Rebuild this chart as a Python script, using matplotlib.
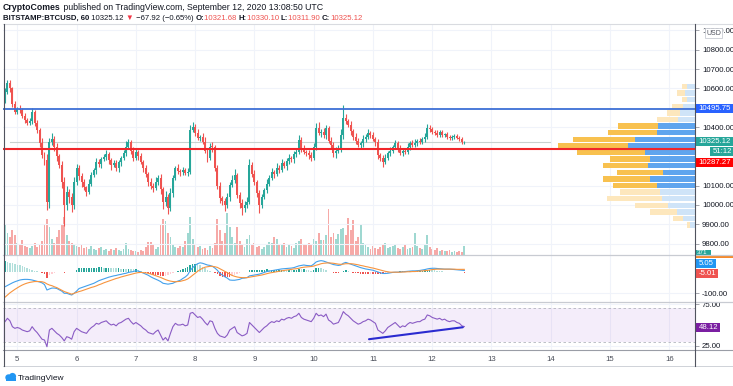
import matplotlib
matplotlib.use('Agg')
import matplotlib.pyplot as plt
import numpy as np
from matplotlib.patches import Rectangle, Circle

plt.rcParams['font.family'] = ['Liberation Sans', 'DejaVu Sans']

# ---- data (hourly candles, Sep 4 19:00 -> Sep 12 13:00 UTC) ----
first_open = 10540
closes = [10580, 10630, 10600, 10520, 10480,
          10495, 10489, 10460, 10440, 10420, 10430, 10479, 10420, 10386, 10320, 10257, 10230, 10015, 10324, 10340, 10300, 10250, 10206, 10118, 10000, 10066, 10040, 9999, 10120,
          10190, 10150, 10118, 10090, 10066, 10110, 10154, 10180, 10221, 10210, 10235, 10247, 10260, 10230, 10206, 10215, 10190, 10221, 10240, 10265, 10300, 10324, 10280, 10240,
          10273, 10250, 10221, 10190, 10160, 10120, 10100, 10087, 10120, 10139, 10080, 10015, 10040, 9984, 10060, 10140, 10190, 10175, 10170, 10180, 10164, 10170, 10386, 10400,
          10370, 10345, 10350, 10324, 10280, 10242, 10300, 10298, 10190, 10100, 10035, 10020, 9999, 10040, 10103, 10130, 10154, 10051, 10010, 9984, 10000, 10015, 10206, 10160,
          10118, 10060, 9999, 10040, 10077, 10110, 10140, 10170, 10160, 10190, 10180, 10216, 10200, 10225, 10242, 10235, 10260, 10273, 10335, 10290, 10273, 10265, 10257, 10242,
          10300, 10396, 10370, 10376, 10360, 10396, 10330, 10309, 10268, 10280, 10283, 10360, 10448, 10430, 10412, 10380, 10350, 10330, 10309, 10320, 10340, 10350, 10370, 10360,
          10340, 10324, 10257, 10240, 10221, 10240, 10268, 10280, 10300, 10319, 10290, 10268, 10280, 10273, 10300, 10319, 10310, 10319, 10330, 10324, 10340, 10350, 10396, 10390,
          10376, 10370, 10360, 10375, 10360, 10365, 10350, 10345, 10350, 10355, 10345, 10340, 10321.68, 10325.12]
up_wick = [20, 15, 12, 10, 15,
           12, 18, 10, 14, 8, 16, 20, 10, 15, 12, 25, 18, 30, 22, 30, 15, 18, 12, 20, 25, 30, 15, 20, 25,
           20, 15, 12, 18, 10, 22, 15, 12, 20, 18, 10, 14, 25, 12, 10, 18, 15, 10, 12, 20, 30, 15, 12, 18,
           15, 10, 20, 12, 15, 10, 18, 12, 25, 15, 20, 12, 30, 18, 25, 15, 12, 20, 10, 15, 12, 20, 25, 27,
           15, 20, 12, 18, 25, 15, 20, 25, 10, 15, 20, 12, 18, 22, 15, 25, 30, 12, 15, 20, 18, 25, 30, 15,
           20, 12, 15, 18, 10, 22, 15, 20, 12, 25, 15, 18, 10, 15, 20, 12, 18, 15, 25, 15, 20, 12, 18, 15,
           20, 25, 30, 15, 20, 18, 12, 20, 15, 18, 25, 30, 67, 20, 15, 18, 12, 20, 15, 10, 18, 15, 20, 12,
           15, 10, 18, 12, 15, 20, 12, 18, 10, 15, 12, 20, 15, 10, 18, 12, 15, 20, 10, 15, 12, 18, 20, 15,
           10, 12, 15, 10, 12, 8, 10, 12, 8, 10, 8, 10, 8.42, 4.98]
down_wick = [15, 10, 20, 18, 12,
             10, 15, 12, 20, 10, 8, 15, 12, 18, 20, 15, 25, 40, 30, 15, 20, 25, 18, 30, 110, 25, 30, 35, 20,
             15, 20, 25, 12, 18, 10, 15, 12, 20, 15, 18, 10, 15, 20, 25, 12, 15, 18, 20, 10, 15, 12, 20, 15,
             10, 18, 12, 20, 15, 25, 18, 20, 12, 15, 25, 35, 20, 30, 15, 20, 12, 15, 20, 18, 12, 15, 10, 12,
             15, 12, 18, 10, 15, 20, 12, 25, 15, 20, 25, 18, 30, 15, 20, 12, 18, 15, 25, 34, 20, 15, 12, 18,
             15, 20, 40, 15, 12, 18, 15, 10, 20, 12, 15, 10, 12, 18, 15, 12, 20, 15, 10, 18, 12, 15, 20, 15,
             12, 15, 10, 18, 15, 20, 12, 15, 20, 25, 15, 12, 18, 15, 12, 20, 15, 18, 12, 15, 20, 18, 12, 15,
             12, 18, 20, 15, 25, 12, 10, 15, 12, 10, 15, 12, 18, 10, 12, 15, 10, 12, 15, 10, 12, 15, 10, 12,
             10, 12, 8, 10, 12, 8, 10, 8, 10, 8, 6, 10, 8, 9.78]
volume = [31, 22, 18, 25, 20,
          12, 10, 15, 9, 8, 7, 9, 12, 8, 10, 14, 30, 36, 28, 16, 12, 18, 25, 30, 38, 20, 14, 12, 10,
          9, 8, 10, 7, 8, 6, 9, 6, 5, 7, 8, 5, 6, 4, 6, 5, 7, 5, 4, 6, 12, 6, 5, 4,
          4, 3, 5, 4, 8, 13, 13, 10, 6, 8, 30, 36, 34, 22, 18, 10, 8, 7, 9, 8, 14, 22, 38, 16,
          10, 8, 9, 6, 7, 5, 9, 7, 12, 36, 25, 14, 22, 42, 28, 18, 12, 28, 14, 10, 8, 16, 20, 10,
          12, 8, 9, 6, 8, 10, 13, 12, 18, 16, 11, 10, 12, 8, 10, 9, 7, 12, 14, 16, 11, 10, 12, 10,
          16, 14, 22, 15, 15, 20, 46, 18, 22, 16, 21, 26, 27, 20, 37, 25, 35, 14, 18, 30, 12, 10,
          8, 6, 9, 7, 6, 8, 10, 12, 7, 8, 9, 10, 7, 6, 8, 10, 6, 7, 8, 22, 9, 7, 6, 10, 20, 8,
          6, 5, 7, 4, 5, 4, 4, 5, 3, 4, 3, 4, 3, 9]

macd = [-70, -64, -58, -52, -47,
        -43, -39, -37, -36, -36, -37, -39, -42, -45, -48, -52, -60, -85, -80, -76, -76, -78, -84, -90, -100, -100, -104, -108, -100,
        -90, -78, -74, -70, -66, -62, -58, -54, -48, -42, -38, -34, -30, -26, -23, -20, -18, -15, -13, -10, -8, -4, -2, 0,
        4, 2, -2, -7, -12, -17, -24, -30, -35, -40, -46, -54, -56, -58, -56, -54, -48, -44, -40, -32, -25, -15, 5, 18,
        28, 36, 40, 38, 34, 30, 28, 24, 16, 6, -8, -16, -24, -30, -39, -40, -40, -38, -36, -31, -30, -28, -20, -18,
        -16, -14, -12, -8, -4, 0, 2, 4, 6, 8, 10, 12, 13, 14, 15, 16, 18, 22, 26, 28, 30, 28, 27, 26,
        34, 44, 48, 50, 48, 44, 40, 36, 32, 30, 28, 30, 38, 42, 38, 34, 30, 26, 22, 18, 15, 12, 10, 8,
        6, 2, -2, -6, -9, -9, -8, -6, -4, -3, -3, -2, -1, 0, 1, 2, 3, 3, 4, 5, 7, 9, 12, 14,
        15, 15, 14, 13, 12, 11, 11, 11, 10, 9, 8, 7, 6, 5.05]
signal = [-118, -108, -98, -90, -82,
          -75, -68, -62, -57, -53, -50, -48, -46, -46, -46, -47, -50, -57, -62, -65, -70, -74, -80, -86, -92, -96, -100, -104, -100,
          -96, -92, -89, -85, -81, -77, -73, -70, -66, -61, -57, -52, -48, -44, -40, -36, -32, -29, -25, -22, -19, -16, -13, -10,
          -7, -5, -4, -5, -6, -8, -11, -15, -19, -23, -27, -32, -37, -41, -44, -46, -47, -46, -45, -42, -39, -34, -26, -17,
          -8, 1, 9, 15, 20, 22, 24, 24, 22, 19, 13, 7, 1, -5, -12, -18, -22, -25, -27, -28, -28, -28, -26, -24,
          -22, -20, -18, -16, -13, -10, -7, -5, -3, -1, 1, 3, 5, 7, 8, 10, 12, 13, 15, 18, 20, 21, 22, 23,
          25, 29, 32, 36, 38, 39, 40, 39, 38, 36, 34, 33, 34, 36, 36, 36, 35, 33, 31, 28, 26, 23, 21, 18,
          16, 13, 10, 7, 4, 1, -1, -3, -3, -3, -3, -3, -2, -2, -1, -1, 0, 0, 1, 2, 3, 4, 5, 7,
          9, 10, 11, 11, 11, 11, 11, 11, 11, 11, 10, 10, 10, 10.06]
rsi = [54, 58, 55, 48, 46,
       47, 46, 44, 43, 42, 43, 48, 44, 41, 37, 33, 32, 24, 44, 46, 43, 40, 38, 35, 31, 36, 35, 33, 42,
       46, 44, 42, 41, 40, 44, 47, 49, 52, 51, 53, 54, 55, 52, 50, 51, 49, 52, 53, 55, 57, 58, 54, 51,
       53, 51, 49, 46, 44, 41, 40, 39, 42, 44, 38, 32, 35, 31, 40, 48, 52, 50, 50, 51, 49, 50, 64, 65,
       62, 59, 60, 57, 53, 50, 55, 54, 46, 40, 37, 36, 35, 38, 44, 46, 48, 41, 39, 37, 38, 40, 53, 50,
       47, 44, 41, 44, 47, 49, 52, 54, 53, 55, 54, 57, 56, 58, 59, 58, 60, 61, 64, 59, 57, 56, 55, 54,
       58, 64, 61, 62, 60, 63, 56, 54, 51, 52, 53, 59, 66, 63, 61, 58, 55, 53, 51, 52, 54, 55, 57, 56,
       54, 52, 44, 42, 40, 43, 47, 49, 51, 53, 50, 47, 49, 48, 51, 53, 52, 53, 54, 54, 56, 57, 62, 61,
       59, 58, 57, 58, 56, 57, 55, 54, 55, 55, 53, 52, 49, 48.12]

# visible range volume profile (rows from top)
vp_price = [10610, 10576, 10542, 10508, 10474, 10440, 10406, 10372, 10338, 10304, 10270,
            10236, 10202, 10168, 10134, 10100, 10066, 10032, 9998, 9964, 9930, 9896]
vp_up = [25, 30, 25, 35, 45, 50, 110, 115, 180, 200, 150, 135, 140, 95, 135, 115, 105, 100, 80, 55, 35, 15]
vp_down = [15, 25, 15, 35, 40, 65, 120, 145, 185, 210, 205, 120, 135, 140, 140, 130, 120, 165, 100, 80, 30, 8]
value_area = (10095, 10410)

resistance = 10495.75
support = 10287.27
last_price = 10325.12
rsi_trend_x = [147.4, 185.4]
rsi_trend_y = [33.0, 47.3]
days = list(range(5, 17))

# ---- layout helpers ----
W, H = 733, 386
fig = plt.figure(figsize=(W / 100, H / 100), dpi=100)
renderer = fig.canvas.get_renderer()


def box(left, top, right, bottom):
    return [left / W, 1 - bottom / H, (right - left) / W, (bottom - top) / H]


def ftext(x, y, s, **kw):
    return fig.text(x / W, 1 - y / H, s, **kw)


UP, DN = '#26a69a', '#ef5350'
GRID = '#f0f3fa'
n = len(closes)
idx = np.arange(n)
closes = np.array(closes, float)
opens = np.r_[first_open, closes[:-1]]
rising = closes >= opens
highs = np.maximum(opens, closes) + np.array(up_wick)
lows = np.minimum(opens, closes) - np.array(down_wick)
xlim = (-0.8, 279.4)
px_per_bar = 2.47
day_idx = [5 + 24 * (d - 5) for d in days]

ax = fig.add_axes(box(3, 24, 695, 255))
axm = fig.add_axes(box(3, 255, 695, 302))
axr = fig.add_axes(box(3, 302, 695, 350))

# ---- volume (behind candles) ----
axv = ax.twinx()
axv.set_xlim(*xlim)
axv.set_ylim(0, 231)
axv.axis('off')
vcol = np.where(rising, '#9fd8d1', '#f6a9a7')
axv.bar(idx, volume, width=0.75, color=vcol, linewidth=0)
ax.set_zorder(axv.get_zorder() + 1)
ax.patch.set_visible(False)

for a in (ax, axm, axr):
    a.set_xlim(*xlim)
    a.set_xticks(day_idx)
    a.grid(True, color=GRID, lw=0.8)
    a.set_axisbelow(True)
    for s in a.spines.values():
        s.set_visible(False)
    a.yaxis.tick_right()
    a.tick_params(axis='y', length=3, width=0.6, color='#9598a1', pad=2, labelsize=5.6, labelcolor='#131722')
    a.tick_params(axis='x', length=0)

# ---- candles ----
ccol = np.where(rising, UP, DN)
ax.vlines(idx, lows, highs, colors=ccol, lw=0.8, zorder=3)
body = np.maximum(np.abs(closes - opens), 4)
ax.bar(idx, body, bottom=np.minimum(opens, closes), width=0.8, color=ccol, linewidth=0, zorder=4)

# ---- volume profile ----
vp_scale = 1 / (3 * px_per_bar)
for p, u, d in zip(vp_price, vp_up, vp_down):
    inside = value_area[0] <= p <= value_area[1]
    cu = '#5fa5ee' if inside else '#cfe4f8'
    cd = '#f8c14f' if inside else '#fde7bd'
    ax.barh(p, -u * vp_scale, left=xlim[1], height=27, color=cu, linewidth=0, zorder=2)
    ax.barh(p, -d * vp_scale, left=xlim[1] - u * vp_scale, height=27, color=cd, linewidth=0, zorder=2)

ax.axhline(last_price, color='#c9d1cf', lw=0.8, zorder=2.5, xmin=0.01, xmax=0.79)
ax.axhline(resistance, color='#3d6fd6', lw=1.3, zorder=5)
ax.axhline(support, color='#f0262a', lw=1.5, zorder=5)
ax.set_ylim(9742, 10932)
ax.set_yticks([9800, 9900, 10000, 10100, 10400, 10600, 10700, 10800, 10900])
ax.set_yticklabels([f'{v:.2f}' for v in ax.get_yticks()])
ax.tick_params(axis='x', labelbottom=False)

# ---- MACD ----
macd = np.array(macd, float)
signal = np.array(signal, float)
hist = macd - signal
hcol = []
for i, h in enumerate(hist):
    prev = hist[i - 1] if i else h
    if h >= 0:
        hcol.append('#26a69a' if h >= prev else '#b2dfdb')
    else:
        hcol.append('#ef5350' if h <= prev else '#ffcdd2')
axm.bar(idx, hist, width=0.6, color=hcol, linewidth=0)
axm.plot(idx, macd, color='#42a0ec', lw=0.8)
axm.plot(idx, signal, color='#f7943e', lw=0.8)
axm.set_ylim(-140, 76)
axm.set_yticks([-100])
axm.set_yticklabels(['-100.00'])
axm.tick_params(axis='x', labelbottom=False)

# ---- RSI ----
axr.axhspan(30, 70, color='#9c4fd0', alpha=0.1, lw=0)
axr.axhline(70, color='#b2b5be', lw=0.6, ls=(0, (3, 3)))
axr.axhline(30, color='#b2b5be', lw=0.6, ls=(0, (3, 3)))
axr.plot(idx, rsi, color='#8a5bc4', lw=0.8)
axr.plot(rsi_trend_x, rsi_trend_y, color='#2b2bd0', lw=1.5, solid_capstyle='round')
axr.set_ylim(20.1, 77.5)
axr.set_yticks([25, 75])
axr.set_yticklabels(['25.00', '75.00'])
axr.set_xticklabels([str(d) for d in days])
axr.tick_params(axis='x', labelsize=5.6, labelcolor='#4a4e59', pad=4)

# ---- frame and separators ----
over = fig.add_axes([0, 0, 1, 1], zorder=20)
over.set_xlim(0, W)
over.set_ylim(H, 0)
over.axis('off')
for y in (255, 302):
    over.plot([3, 733], [y, y], color='#c8cbd2', lw=0.9)
over.plot([3, 733], [24, 24], color='#d9dbe0', lw=0.8)
over.plot([3, 733], [350, 350], color='#9a9da6', lw=0.8)
over.plot([3, 733], [366, 366], color='#c8cbd2', lw=0.6)
over.plot([3.5, 3.5], [24, 366], color='#50535e', lw=0.8)
over.plot([695, 695], [24, 366], color='#50535e', lw=0.8)


def price_label(y, s, fc, x0=696, x1=733, h=9, size=5.6, color='white'):
    over.add_patch(Rectangle((x0, y - h / 2), x1 - x0, h, color=fc, lw=0))
    over.text((x0 + x1) / 2 + 0.5, y + 0.3, s, color=color, fontsize=size, ha='center', va='center')


# USD box over top label
over.add_patch(Rectangle((705, 28), 17, 10, fc='white', ec='#c9ccd3', lw=0.6))
over.text(713.5, 33.3, 'USD', fontsize=5, ha='center', va='center', color='#50535e')
price_label(108, '10495.75', '#2962ff')
price_label(141.5, '10325.12', '#26a69a')
price_label(151.5, '51:12', '#26a69a', x0=710)
price_label(162, '10287.27', '#ff0000')
over.add_patch(Rectangle((696, 249.5), 15, 5, color='#26a69a', lw=0))
over.text(702, 253, '371', fontsize=4.5, color='white', ha='center', va='center')
over.add_patch(Rectangle((696, 255.5), 37, 2.5, color='#f48a2e', lw=0))
price_label(263, '5.05', '#2196f3', x0=696, x1=716)
price_label(273.5, '-5.01', '#ef5350', x0=696, x1=718)
price_label(327.5, '48.12', '#7b1fa2', x0=696, x1=720)


# ---- header ----
def text_run(parts, x, y, size):
    for s, color, weight in parts:
        t = ftext(x, y, s, fontsize=size, color=color, fontweight=weight, va='baseline', ha='left')
        x += t.get_window_extent(renderer).width


DARK = '#131722'
text_run([('CryptoComes', DARK, 'bold'),
          (' published on TradingView.com, September 12, 2020 13:08:50 UTC', DARK, 'normal')], 3, 9.5, 6.3)
text_run([('BITSTAMP:BTCUSD, 60', DARK, 'bold'), (' 10325.12 ', DARK, 'normal'),
          ('\u25bc', '#f23645', 'normal'), (' \u221267.92 (\u22120.65%) ', DARK, 'normal'),
          ('O:', DARK, 'bold'), ('10321.68 ', DN, 'normal'), ('H:', DARK, 'bold'), ('10330.10 ', DN, 'normal'),
          ('L:', DARK, 'bold'), ('10311.90 ', DN, 'normal'), ('C:', DARK, 'bold'), ('10325.12', DN, 'normal')],
         3, 19.5, 5.6)

# ---- footer logo ----
over.add_patch(Circle((8.5, 377.5), 3.2, color='#2196f3', lw=0))
over.add_patch(Circle((12.5, 376.5), 3.6, color='#2196f3', lw=0))
over.add_patch(Rectangle((5.5, 377.5), 10, 3.6, color='#2196f3', lw=0))
ftext(18, 380.5, 'TradingView', fontsize=6, color='#131722', va='baseline')

fig.savefig('out.png', dpi=100, facecolor='white')
